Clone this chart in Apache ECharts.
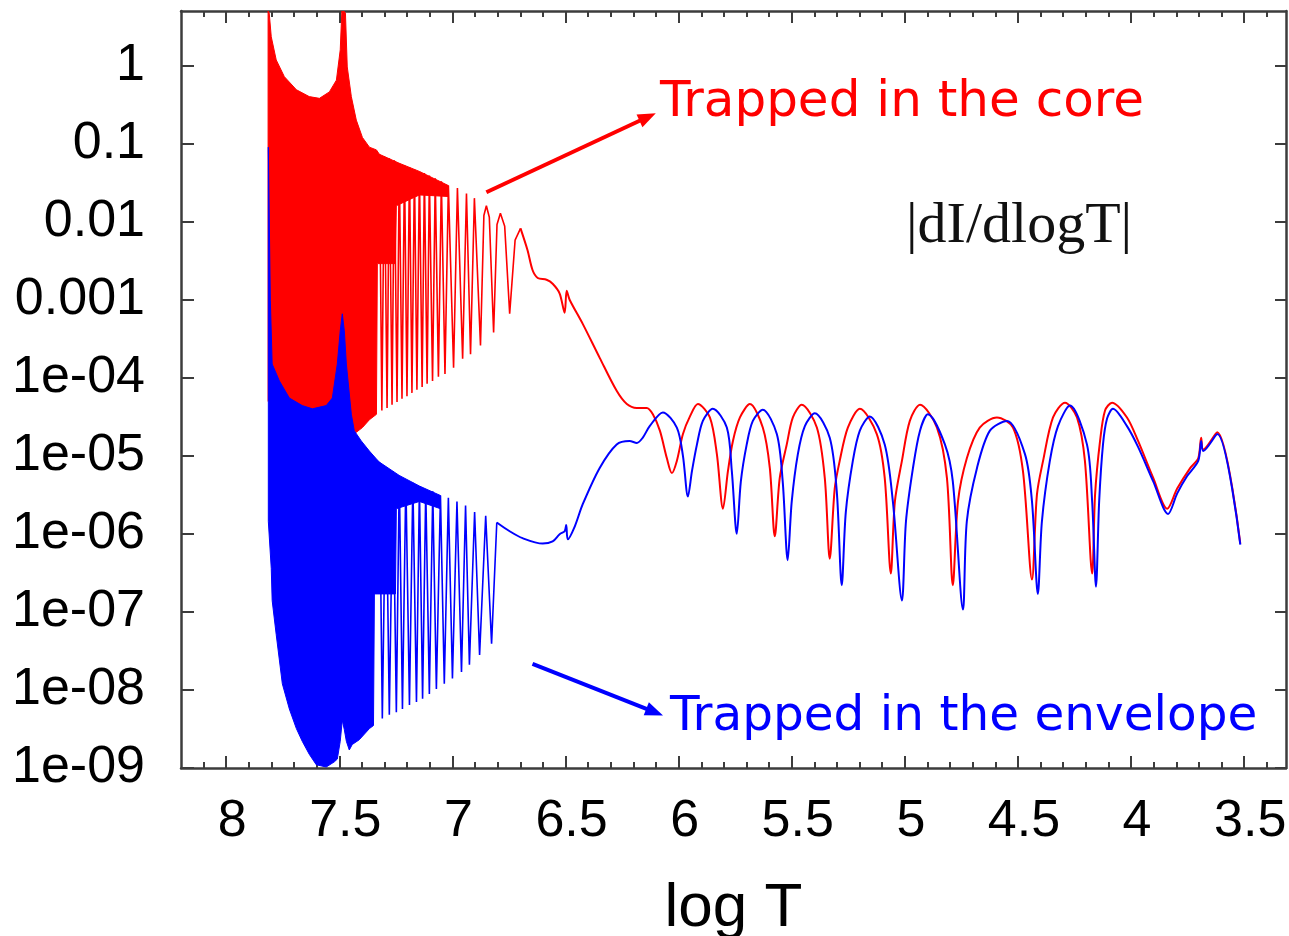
<!DOCTYPE html>
<html>
<head>
<meta charset="utf-8">
<title>|dI/dlogT|</title>
<script src="https://cdn.jsdelivr.net/npm/echarts@6/dist/echarts.min.js"></script>
<style>
  html, body { margin: 0; padding: 0; background: #fff; }
  #chart { width: 1289px; height: 936px; }
</style>
</head>
<body>
<div id="chart"></div>
<script>
// x = log T (axis runs from 8.2 on the left down to ~3.3), y = |dI/dlogT| (log scale)
const xMajorTicks = [8, 7.5, 7, 6.5, 6, 5.5, 5, 4.5, 4, 3.5];
const xMinorTicks = [8.1, 7.9, 7.8, 7.7, 7.6, 7.4, 7.3, 7.2, 7.1, 6.9, 6.8, 6.7, 6.6, 6.4, 6.3, 6.2, 6.1,
  5.9, 5.8, 5.7, 5.6, 5.4, 5.3, 5.2, 5.1, 4.9, 4.8, 4.7, 4.6, 4.4, 4.3, 4.2, 4.1, 3.9, 3.8, 3.7, 3.6, 3.4];
const yTicks = [1e-9, 1e-8, 1e-7, 1e-6, 1e-5, 1e-4, 1e-3, 1e-2, 1e-1, 1];
const yTickLabels = ['1e-09', '1e-08', '1e-07', '1e-06', '1e-05', '1e-04', '0.001', '0.01', '0.1', '1'];

// core-trapped mode (red): dense part is an envelope band, then resolved oscillations, then the tail
const redBandUpper = [[7.815, 5], [7.810, 4.7], [7.801, 2.34], [7.779, 1.18], [7.743, 0.72], [7.690, 0.49],
  [7.633, 0.40], [7.588, 0.38], [7.544, 0.46], [7.513, 0.65], [7.496, 1.59], [7.489, 5], [7.480, 5],
  [7.473, 4.7], [7.465, 0.96], [7.447, 0.40], [7.425, 0.20], [7.398, 0.12], [7.367, 0.09], [7.336, 0.083],
  [7.323, 0.073], [7.235, 0.056], [7.146, 0.044], [7.018, 0.029]];
const redBandLower = [[7.815, 5.0e-5], [7.779, 6.8e-5], [7.721, 5.0e-5], [7.633, 3.5e-5], [7.544, 3.5e-5],
  [7.500, 2.8e-5], [7.447, 2.2e-5], [7.425, 2.0e-5], [7.398, 2.3e-5], [7.367, 2.9e-5], [7.336, 3.4e-5],
  [7.332, 0.0029], [7.252, 0.0029], [7.248, 0.016], [7.146, 0.022], [7.018, 0.021]];
const redSpikes = [[7.323, 0.073], [7.312, 3.8e-5], [7.301, 0.069], [7.289, 4.1e-5], [7.279, 0.065], [7.267, 4.5e-5],
  [7.257, 0.061], [7.245, 4.9e-5], [7.235, 0.056], [7.223, 5.4e-5], [7.212, 0.053], [7.201, 5.8e-5],
  [7.190, 0.050], [7.179, 6.4e-5], [7.168, 0.047], [7.157, 7.0e-5], [7.146, 0.044], [7.134, 7.6e-5],
  [7.124, 0.042], [7.112, 8.4e-5], [7.102, 0.039], [7.088, 9.1e-5], [7.076, 0.036], [7.062, 1.03e-4],
  [7.049, 0.033], [7.033, 1.12e-4], [7.018, 0.029], [6.995, 1.34e-4], [6.978, 0.027], [6.955, 1.75e-4],
  [6.938, 0.023], [6.920, 2.0e-4], [6.903, 0.020], [6.876, 2.6e-4], [6.861, 0.012], [6.850, 0.016],
  [6.837, 0.0114], [6.818, 3.8e-4], [6.803, 0.0092], [6.788, 0.0128], [6.769, 0.0087], [6.747, 6.6e-4],
  [6.723, 0.0058], [6.699, 0.0082]];
const redTail = [[6.699, 0.0082], [6.668, 0.0043], [6.646, 0.0024], [6.623, 0.0019], [6.584, 0.0018],
  [6.557, 0.0016], [6.526, 0.0012], [6.504, 6.8e-4], [6.495, 0.0013], [6.482, 0.0010], [6.424, 4.9e-4],
  [6.349, 1.8e-4], [6.274, 6.8e-5], [6.229, 4.6e-5], [6.185, 4.1e-5], [6.141, 4.1e-5], [6.114, 3.4e-5],
  [6.083, 2.1e-5], [6.052, 9.3e-6], [6.030, 6.0e-6], [6.008, 8.6e-6], [5.981, 1.9e-5], [5.950, 3.2e-5],
  [5.915, 4.6e-5], [5.862, 3.1e-5], [5.831, 1.05e-5], [5.804, 2.1e-6], [5.782, 6.4e-6], [5.760, 1.55e-5],
  [5.729, 3.1e-5], [5.685, 4.6e-5], [5.628, 2.3e-5], [5.597, 7.0e-6], [5.575, 9.3e-7], [5.553, 5.2e-6],
  [5.522, 1.4e-5], [5.495, 3.1e-5], [5.456, 4.5e-5], [5.389, 2.3e-5], [5.354, 5.2e-6], [5.332, 4.8e-7],
  [5.310, 3.8e-6], [5.288, 8.6e-6], [5.252, 2.3e-5], [5.199, 4.0e-5], [5.124, 1.9e-5], [5.089, 5.2e-6],
  [5.062, 3.1e-7], [5.044, 2.6e-6], [5.013, 8.6e-6], [4.978, 2.8e-5], [4.933, 4.5e-5], [4.858, 2.3e-5],
  [4.814, 5.2e-6], [4.788, 2.2e-7], [4.765, 2.6e-6], [4.726, 9.3e-6], [4.669, 2.3e-5], [4.593, 3.1e-5],
  [4.522, 2.3e-5], [4.478, 6.4e-6], [4.438, 2.6e-7], [4.416, 3.2e-6], [4.389, 8.6e-6], [4.345, 3.1e-5],
  [4.292, 4.8e-5], [4.239, 3.1e-5], [4.204, 8.6e-6], [4.172, 3.1e-7], [4.159, 3.2e-6], [4.137, 1.55e-5],
  [4.115, 3.8e-5], [4.084, 4.8e-5], [4.018, 3.1e-5], [3.969, 1.55e-5], [3.902, 5.2e-6], [3.840, 2.1e-6],
  [3.796, 3.8e-6], [3.738, 7.0e-6], [3.703, 9.3e-6], [3.690, 1.7e-5], [3.681, 1.2e-5], [3.619, 2.0e-5],
  [3.517, 7.5e-7]];

// envelope-trapped mode (blue)
const blueBandUpper = [[7.814, 0.09], [7.805, 9.7e-4], [7.797, 1.5e-4], [7.765, 9.1e-5], [7.721, 5.5e-5],
  [7.664, 4.4e-5], [7.619, 4.0e-5], [7.558, 4.4e-5], [7.531, 5.5e-5], [7.509, 1.5e-4], [7.496, 4.0e-4],
  [7.487, 6.6e-4], [7.478, 4.0e-4], [7.469, 1.5e-4], [7.447, 3.4e-5], [7.434, 2.1e-5], [7.403, 1.55e-5],
  [7.367, 1.15e-5], [7.336, 9.1e-6], [7.323, 8.3e-6], [7.235, 5.6e-6], [7.146, 4.1e-6], [7.053, 3.1e-6]];
const blueBandLower = [[7.814, 1.45e-6], [7.801, 3.6e-7], [7.797, 1.4e-7], [7.779, 5.1e-8], [7.752, 1.2e-8],
  [7.721, 5.7e-9], [7.690, 3.2e-9], [7.664, 2.2e-9], [7.633, 1.5e-9], [7.602, 1.1e-9], [7.558, 1.03e-9],
  [7.522, 1.2e-9], [7.509, 1.3e-9], [7.496, 2.2e-9], [7.487, 4.1e-9], [7.478, 3.1e-9], [7.469, 2.2e-9],
  [7.456, 1.7e-9], [7.443, 2.0e-9], [7.412, 2.3e-9], [7.367, 3.2e-9], [7.349, 3.5e-9], [7.345, 1.7e-7],
  [7.252, 1.7e-7], [7.248, 2.1e-6], [7.146, 2.6e-6], [7.053, 2.1e-6]];
const blueSpikes = [[7.323, 8.3e-6], [7.310, 4.3e-9], [7.294, 7.2e-6], [7.279, 4.8e-9], [7.263, 6.4e-6],
  [7.248, 5.2e-9], [7.235, 5.6e-6], [7.221, 5.7e-9], [7.206, 4.9e-6], [7.190, 6.4e-9], [7.175, 4.5e-6],
  [7.159, 7.0e-9], [7.146, 4.1e-6], [7.132, 7.7e-9], [7.118, 3.7e-6], [7.102, 8.9e-9], [7.087, 3.5e-6],
  [7.071, 1.03e-8], [7.053, 3.1e-6], [7.036, 1.2e-8], [7.018, 2.9e-6], [7.000, 1.4e-8], [6.980, 2.6e-6],
  [6.960, 1.7e-8], [6.942, 2.3e-6], [6.925, 2.1e-8], [6.902, 1.9e-6], [6.880, 2.8e-8], [6.853, 1.7e-6],
  [6.827, 3.9e-8], [6.804, 1.4e-6]];
const blueTail = [[6.804, 1.4e-6], [6.747, 1.08e-6], [6.690, 8.8e-7], [6.601, 7.5e-7], [6.557, 8.0e-7],
  [6.526, 9.9e-7], [6.504, 1.08e-6], [6.497, 1.3e-6], [6.490, 8.5e-7], [6.459, 1.25e-6], [6.424, 2.4e-6],
  [6.349, 7.0e-6], [6.274, 1.4e-5], [6.217, 1.55e-5], [6.185, 1.46e-5], [6.159, 1.7e-5], [6.128, 2.4e-5],
  [6.070, 3.6e-5], [6.008, 2.3e-5], [5.981, 1.0e-5], [5.959, 3.0e-6], [5.941, 6.4e-6], [5.919, 1.4e-5],
  [5.893, 2.8e-5], [5.849, 4.0e-5], [5.787, 2.3e-5], [5.765, 6.4e-6], [5.743, 1.0e-6], [5.725, 4.7e-6],
  [5.699, 1.4e-5], [5.672, 2.8e-5], [5.628, 3.9e-5], [5.566, 1.9e-5], [5.540, 4.7e-6], [5.518, 4.6e-7],
  [5.500, 2.6e-6], [5.473, 1.05e-5], [5.442, 2.4e-5], [5.398, 3.5e-5], [5.332, 1.7e-5], [5.301, 3.5e-6],
  [5.279, 2.2e-7], [5.261, 1.9e-6], [5.230, 8.6e-6], [5.199, 2.1e-5], [5.155, 3.2e-5], [5.089, 1.4e-5],
  [5.053, 2.6e-6], [5.013, 1.4e-7], [4.995, 1.45e-6], [4.964, 7.0e-6], [4.933, 2.1e-5], [4.898, 3.4e-5],
  [4.823, 1.4e-5], [4.788, 4.7e-6], [4.743, 1.07e-7], [4.726, 1.45e-6], [4.681, 7.0e-6], [4.624, 2.1e-5],
  [4.549, 2.8e-5], [4.469, 1.05e-5], [4.438, 2.6e-6], [4.412, 1.7e-7], [4.394, 1.45e-6], [4.359, 8.6e-6],
  [4.323, 2.4e-5], [4.270, 4.4e-5], [4.195, 1.4e-5], [4.172, 2.6e-6], [4.155, 2.1e-7], [4.141, 2.6e-6],
  [4.124, 1.4e-5], [4.106, 3.0e-5], [4.080, 4.0e-5], [4.018, 2.4e-5], [3.969, 1.3e-5], [3.902, 4.7e-6],
  [3.836, 1.8e-6], [3.796, 3.3e-6], [3.752, 5.5e-6], [3.703, 8.6e-6], [3.690, 1.55e-5], [3.681, 1.15e-5],
  [3.619, 1.9e-5], [3.517, 7.3e-7]];

// annotation arrows, in data coordinates [start, end]
const redArrow = [[6.850, 0.0238], [6.137, 0.219]];
const blueArrow = [[6.646, 2.16e-8], [6.106, 5.2e-9]];

var myChart = echarts.init(document.getElementById('chart'));
var option;

const frameColor = '#3c3c3c';
const tickFont = 'Liberation Sans, Arial, sans-serif';

function bandRenderer(upper, lower, color) {
  return function (params, api) {
    if (params.dataIndex !== 0) return null;
    var pts = [];
    upper.forEach(function (p) { pts.push(api.coord(p)); });
    lower.slice().reverse().forEach(function (p) { pts.push(api.coord(p)); });
    return {
      type: 'polygon',
      shape: { points: pts },
      style: { fill: color, stroke: color, lineWidth: 1 }
    };
  };
}

function xAxisDef(position, values, len, main) {
  return {
    type: 'value',
    position: position,
    min: 3.315,
    max: 8.2,
    inverse: true,
    axisLine: { show: main, lineStyle: { color: frameColor, width: 2.5 } },
    axisTick: {
      show: true, inside: true, length: len, customValues: values,
      lineStyle: { color: frameColor, width: 2 }
    },
    axisLabel: main && position === 'bottom' ? {
      show: true, customValues: xMajorTicks, margin: 28, color: '#000',
      fontSize: 52, fontFamily: tickFont, padding: [0, 0, 0, 12],
      formatter: function (v) { return String(v); }
    } : { show: false },
    splitLine: { show: false },
    name: main && position === 'bottom' ? 'log T' : '',
    nameLocation: 'middle',
    nameGap: 110,
    nameTextStyle: { fontSize: 62, fontFamily: tickFont, color: '#000' }
  };
}

function yAxisDef(position, len, labels) {
  return {
    type: 'log',
    logBase: 10,
    position: position,
    min: 1e-9,
    max: 5,
    axisLine: { show: true, lineStyle: { color: frameColor, width: 2.5 } },
    axisTick: {
      show: true, inside: true, length: len, customValues: yTicks,
      lineStyle: { color: frameColor, width: 2 }
    },
    axisLabel: labels ? {
      show: true, customValues: yTicks, margin: 36, color: '#000',
      fontSize: 52, fontFamily: tickFont,
      formatter: function (v) {
        var i = Math.round(Math.log10(v)) + 9;
        return yTickLabels[i];
      }
    } : { show: false },
    splitLine: { show: false },
    minorTick: { show: false }
  };
}

function lineSeries(data, color, width, smooth) {
  return {
    type: 'line',
    data: data,
    xAxisIndex: 0,
    yAxisIndex: 0,
    symbol: 'none',
    showSymbol: false,
    smooth: smooth || false,
    clip: true,
    lineStyle: { color: color, width: width },
    itemStyle: { color: color },
    emphasis: { disabled: true }
  };
}

function arrowLine(pts, color) {
  return {
    silent: true,
    symbol: ['none', 'triangle'],
    symbolSize: [14, 18],
    label: { show: false },
    lineStyle: { color: color, width: 4, type: 'solid' },
    data: [[{ coord: pts[0] }, { coord: pts[1] }]]
  };
}

var redTailSeries = lineSeries(redTail, '#ff0000', 2, 0.3);
redTailSeries.markLine = arrowLine(redArrow, '#ff0000');
var blueTailSeries = lineSeries(blueTail, '#0000ff', 2, 0.3);
blueTailSeries.markLine = arrowLine(blueArrow, '#0000ff');

option = {
  backgroundColor: '#fff',
  animation: false,
  grid: { left: 181, top: 11, width: 1105, height: 757, containLabel: false, outerBoundsMode: 'none' },
  xAxis: [
    xAxisDef('bottom', xMajorTicks, 12, true),
    xAxisDef('bottom', xMinorTicks, 6, false),
    xAxisDef('top', xMajorTicks, 12, true),
    xAxisDef('top', xMinorTicks, 6, false)
  ],
  yAxis: [
    yAxisDef('left', 13, true),
    yAxisDef('right', 11, false)
  ],
  series: [
    {
      type: 'custom',
      renderItem: bandRenderer(redBandUpper, redBandLower, '#ff0000'),
      data: redBandUpper,
      encode: { x: 0, y: 1 },
      clip: true,
      silent: true
    },
    lineSeries(redSpikes, '#ff0000', 1.6),
    redTailSeries,
    {
      type: 'custom',
      renderItem: bandRenderer(blueBandUpper, blueBandLower, '#0000ff'),
      data: blueBandUpper,
      encode: { x: 0, y: 1 },
      clip: true,
      silent: true
    },
    lineSeries(blueSpikes, '#0000ff', 1.6),
    blueTailSeries
  ],
  graphic: [
    {
      type: 'text', left: 906, top: 198,
      style: { text: '|dI/dlogT|', fontSize: 58, fontFamily: 'Liberation Serif, Times New Roman, serif', fill: '#111' }
    },
    {
      type: 'text', left: 660, top: 78,
      style: { text: 'Trapped in the core', fontSize: 50, fontFamily: 'DejaVu Sans, sans-serif', fill: '#ff0000' }
    },
    {
      type: 'text', left: 670, top: 693,
      style: { text: 'Trapped in the envelope', fontSize: 48.5, fontFamily: 'DejaVu Sans, sans-serif', fill: '#0000ff' }
    }
  ]
};

option && myChart.setOption(option);
</script>
</body>
</html>
